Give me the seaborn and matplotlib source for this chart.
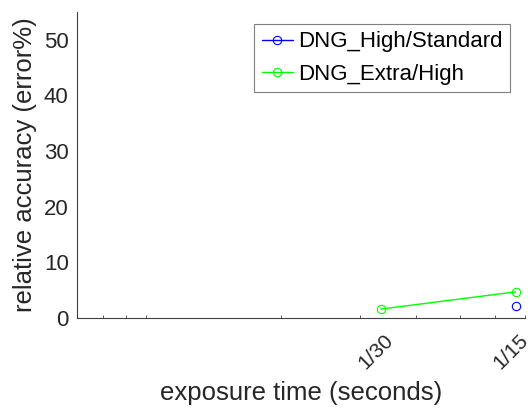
import numpy as np
import pandas as pd
import matplotlib
matplotlib.use("Agg")
import matplotlib.pyplot as plt
import matplotlib.transforms as mtransforms
import seaborn as sns
from matplotlib.ticker import FixedLocator, NullFormatter

# ---- data ----
series_names = ["DNG_High/Standard", "DNG_Extra/High"]
high_std_x = [1/15]
high_std_y = [2.2]
extra_high_x = [1/30, 1/15]
extra_high_y = [1.6, 4.7]
xtick_values = [1/30, 1/15]
xtick_labels = ["1/30", "1/15"]
ytick_values = [0, 10, 20, 30, 40, 50]
series_colors = ["#0000ff", "#00ff00"]

sns.set_theme(style="white")
plt.rcParams["font.family"] = ["Liberation Sans", "DejaVu Sans"]
text_color = "#262626"

df = pd.concat([
    pd.DataFrame({"x": high_std_x, "y": high_std_y, "series": series_names[0]}),
    pd.DataFrame({"x": extra_high_x, "y": extra_high_y, "series": series_names[1]}),
], ignore_index=True)

W, H = 532, 412
fig = plt.figure(figsize=(W / 100, H / 100), dpi=100)
ax = fig.add_axes([77 / W, 1 - 318 / H, 448 / W, 306 / H])

for name, color in zip(series_names, series_colors):
    sub = df[df["series"] == name]
    sns.lineplot(data=sub, x="x", y="y", ax=ax, color=color, lw=1.0,
                 marker="o", markersize=6, markerfacecolor="none",
                 markeredgecolor=color, markeredgewidth=0.8,
                 label=name, estimator=None, sort=False)

ax.set_xscale("log")
ax.set_xlim(0.007, 0.07)
ax.set_ylim(0, 55)
ax.xaxis.set_major_locator(FixedLocator(xtick_values))
ax.set_xticklabels(xtick_labels, rotation=45)
ax.xaxis.set_minor_locator(FixedLocator([0.008, 0.009, 0.01, 0.02, 0.03, 0.04, 0.05, 0.06, 0.07]))
ax.xaxis.set_minor_formatter(NullFormatter())
ax.set_yticks(ytick_values)

for s in ["top", "right"]:
    ax.spines[s].set_visible(False)
for s in ["left", "bottom"]:
    ax.spines[s].set_color("#404040")
    ax.spines[s].set_linewidth(0.8)

ax.tick_params(axis="both", which="major", direction="in", length=4, width=0.8,
               color="#404040", labelsize=16, labelcolor=text_color)
ax.tick_params(axis="x", which="major", pad=9, labelsize=15)
ax.tick_params(axis="y", which="major", pad=6)
ax.tick_params(axis="x", which="minor", direction="in", length=2.5, width=0.6,
               color="#404040", bottom=True)

offset = mtransforms.ScaledTranslation(-5 / 100, 0, fig.dpi_scale_trans)
for lbl in ax.get_xticklabels():
    lbl.set_transform(lbl.get_transform() + offset)

ax.set_xlabel("exposure time (seconds)", fontsize=18.5, color=text_color, labelpad=6)
ax.set_ylabel("relative accuracy (error%)", fontsize=18.5, color=text_color, labelpad=5)

leg = ax.legend(loc="upper right", bbox_to_anchor=(510 / W, 1 - 24 / H),
                bbox_transform=fig.transFigure, borderaxespad=0,
                fontsize=16, frameon=True, fancybox=False, framealpha=1,
                edgecolor="#808080", handlelength=1.4, handletextpad=0.25,
                borderpad=0.33, labelspacing=0.53)
leg.get_frame().set_linewidth(0.8)
for t in leg.get_texts():
    t.set_color("black")

fig.savefig("out.png", dpi=100)
